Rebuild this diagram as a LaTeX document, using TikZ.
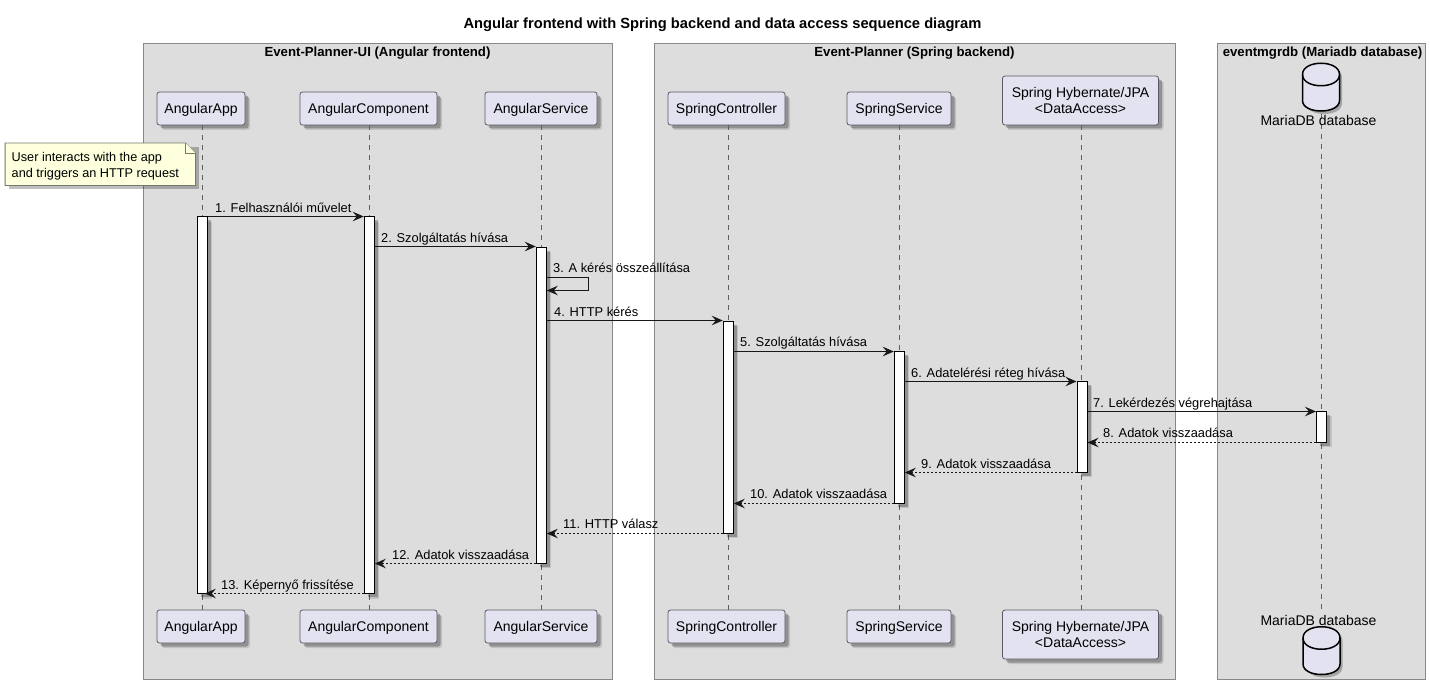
\documentclass[tikz,border=0pt]{standalone}
\usepackage{fontspec}
\setmainfont{Liberation Sans}
\usetikzlibrary{arrows.meta,shadows,calc}
\definecolor{grpfill}{HTML}{DDDDDD}
\definecolor{grpline}{HTML}{888888}
\definecolor{partfill}{HTML}{E2E2F0}
\definecolor{partline}{HTML}{5A5A66}
\definecolor{notefill}{HTML}{FEFFDD}
\definecolor{noteline}{HTML}{77776A}
\definecolor{ink}{HTML}{181818}
\tikzset{
  softbox/.style={drop shadow={shadow xshift=5pt,shadow yshift=-5pt,fill=black,opacity=.12},
                  drop shadow={shadow xshift=3.5pt,shadow yshift=-3.5pt,fill=black,opacity=.25}},
  grp/.style={draw=grpline,fill=grpfill,line width=1pt,inner sep=0pt},
  grptitle/.style={font=\fontsize{13.2}{15}\selectfont\bfseries,text=black,inner sep=0pt},
  part/.style={draw=partline,fill=partfill,line width=.8pt,rounded corners=2.5pt,inner sep=0pt,align=center,
               font=\fontsize{14}{16.5}\selectfont,softbox,execute at begin node={\rule{0pt}{13pt}}},
  life/.style={draw=grpline!70!black,line width=.8pt,dash pattern=on 5pt off 5pt},
  act/.style={draw=black,fill=white,line width=1pt,inner sep=0pt,minimum width=10pt,softbox},
  msg/.style={draw=ink,line width=1.3pt,-{Stealth[length=11pt,width=9.5pt,inset=4pt]}},
  ret/.style={msg,dash pattern=on 2pt off 2pt},
  lbl/.style={anchor=base west,inner sep=0pt,font=\fontsize{12.85}{15}\selectfont,text=black},
  dbname/.style={inner sep=0pt,font=\fontsize{14}{16}\selectfont,text=black},
  dbbody/.style={draw=black,fill=partfill,line width=1.5pt},
}
% database cylinder, centred on a named node (46 high, 37 wide)
\newcommand{\dbicon}[1]{%
  \begin{scope}[shift={(#1.center)}]
  \fill[black,opacity=.25] (-15,-10) .. controls (-15,-26) and (21,-26) .. (21,-10) -- (21,16)
    .. controls (21,30) and (-15,30) .. (-15,16) -- cycle;
  \path[dbbody] (-18.5,-13) .. controls (-18.5,-28) and (18.5,-28) .. (18.5,-13) -- (18.5,13)
    .. controls (18.5,27) and (-18.5,27) .. (-18.5,13) -- cycle;
  \draw[dbbody,fill=none] (-18.5,-13) .. controls (-18.5,2) and (18.5,2) .. (18.5,-13);
  \end{scope}
}
\begin{document}
\begin{tikzpicture}[x=1pt,y=-1pt]
\useasboundingbox (0,0) rectangle (1430,690);
\fill[white] (0,0) rectangle (1430,690);

\node[font=\fontsize{14.7}{16}\selectfont\bfseries,inner sep=0pt] (title) at (722.5,25) {Angular frontend with Spring backend and data access sequence diagram};

% groups
\node[grp,minimum width=469pt,minimum height=635pt] (g1) at (377.75,361.5) {};
\node[grp,minimum width=521pt,minimum height=635pt] (g2) at (914.75,361.5) {};
\node[grp,minimum width=208pt,minimum height=635pt] (g3) at (1321.5,361.5) {};
\node[grptitle] (g1t) at (377.5,53) {Event-Planner-UI (Angular frontend)};
\node[grptitle] (g2t) at (914.5,53) {Event-Planner (Spring backend)};
\node[grptitle] (g3t) at (1322.5,53) {eventmgrdb (Mariadb database)};

% lifeline x positions
\coordinate (xA) at (202.5,0);
\coordinate (xB) at (369.5,0);
\coordinate (xC) at (541.5,0);
\coordinate (xD) at (728.5,0);
\coordinate (xE) at (899.5,0);
\coordinate (xF) at (1081.5,0);
\coordinate (xG) at (1321.5,0);

% participants
\node[part,minimum width=88pt,minimum height=33pt] (hA) at (201,108.5) {AngularApp};
\node[part,minimum width=137pt,minimum height=33pt] (hB) at (368.5,108.5) {AngularComponent};
\node[part,minimum width=112pt,minimum height=33pt] (hC) at (541,108.5) {AngularService};
\node[part,minimum width=117pt,minimum height=33pt] (hD) at (726.5,108.5) {SpringController};
\node[part,minimum width=104pt,minimum height=33pt] (hE) at (899,108.5) {SpringService};
\node[part,minimum width=156pt,minimum height=49pt] (hF) at (1080.5,100.5) {Spring Hybernate/JPA\\<DataAccess>};
\node[part,minimum width=88pt,minimum height=33pt] (fA) at (201,626.5) {AngularApp};
\node[part,minimum width=137pt,minimum height=33pt] (fB) at (368.5,626.5) {AngularComponent};
\node[part,minimum width=112pt,minimum height=33pt] (fC) at (541,626.5) {AngularService};
\node[part,minimum width=117pt,minimum height=33pt] (fD) at (726.5,626.5) {SpringController};
\node[part,minimum width=104pt,minimum height=33pt] (fE) at (899,626.5) {SpringService};
\node[part,minimum width=156pt,minimum height=49pt] (fF) at (1080.5,634.5) {Spring Hybernate/JPA\\<DataAccess>};

% database top and bottom
\coordinate (hGlow) at (1321.5,114);
\coordinate (fGtop) at (1321.5,613);
\node[inner sep=0pt,minimum width=37pt,minimum height=46pt] (hGi) at (1321,87.5) {};
\node[inner sep=0pt,minimum width=37pt,minimum height=46pt] (fGi) at (1321.5,651) {};
\dbicon{hGi}
\dbicon{fGi}

% lifelines
\draw[life] (xA |- hA.south) -- (xA |- fA.north);
\draw[life] (xB |- hB.south) -- (xB |- fB.north);
\draw[life] (xC |- hC.south) -- (xC |- fC.north);
\draw[life] (xD |- hD.south) -- (xD |- fD.north);
\draw[life] (xE |- hE.south) -- (xE |- fE.north);
\draw[life] (xF |- hF.south) -- (xF |- fF.north);
\draw[life] (hGlow) -- (fGtop);

\node[dbname] (hG) at (1318.5,120) {MariaDB database};
\node[dbname] (fG) at (1318.5,620) {MariaDB database};

% activations
\node[act,minimum height=377pt] (aA) at (202.3,405) {};
\node[act,minimum height=377pt] (aB) at (369.3,405) {};
\node[act,minimum height=316pt] (aC) at (541.3,405) {};
\node[act,minimum height=212pt] (aD) at (728.3,427) {};
\node[act,minimum height=152pt] (aE) at (899.3,427) {};
\node[act,minimum height=91pt] (aF) at (1082,426.5) {};
\node[act,minimum height=31pt] (aG) at (1321.5,426.5) {};

% note
\node[inner sep=0pt,minimum width=190pt,minimum height=42pt] (noteframe) at (100.3,164.3) {};
\path[fill=black,opacity=.25] ([xshift=3.5pt,yshift=-3.5pt]noteframe.north west) -- ([xshift=3.5pt,yshift=-3.5pt]noteframe.north east) -- ([xshift=3.5pt,yshift=-3.5pt]noteframe.south east) -- ([xshift=3.5pt,yshift=-3.5pt]noteframe.south west) -- cycle;
\draw[draw=noteline,fill=notefill,line width=.8pt]
  (noteframe.north west) -- ([xshift=-10pt]noteframe.north east) -- ([yshift=-10pt]noteframe.north east)
  -- (noteframe.south east) -- (noteframe.south west) -- cycle;
\draw[draw=noteline,fill=notefill,line width=.8pt]
  ([xshift=-10pt]noteframe.north east) -- ([xshift=-10pt,yshift=-10pt]noteframe.north east) -- ([yshift=-10pt]noteframe.north east);
\node[lbl,anchor=base west,align=left,font=\fontsize{12.7}{16}\selectfont] (note) at (11.5,177.5) {User interacts with the app\\and triggers an HTTP request};

% message rows
\foreach \n/\y in {1/216.5,2/246.5,3/277.5,3b/290.5,4/320.5,5/351.5,6/381.5,7/411.5,8/442.5,9/472.5,10/503.5,11/533.5,12/563.5,13/593.5}
  \coordinate (r\n) at (0,\y);
\coordinate (loopx) at (588.5,0);

\draw[msg] (aA.east |- r1) -- (aB.west |- r1);
\draw[msg] (aB.east |- r2) -- (aC.west |- r2);
\draw[msg] (aC.east |- r3) -- (loopx |- r3) -- (loopx |- r3b) -- (aC.east |- r3b);
\draw[msg] (aC.east |- r4) -- (aD.west |- r4);
\draw[msg] (aD.east |- r5) -- (aE.west |- r5);
\draw[msg] (aE.east |- r6) -- (aF.west |- r6);
\draw[msg] (aF.east |- r7) -- (aG.west |- r7);
\draw[ret] (aG.west |- r8) -- (aF.east |- r8);
\draw[ret] (aF.west |- r9) -- (aE.east |- r9);
\draw[ret] (aE.west |- r10) -- (aD.east |- r10);
\draw[ret] (aD.west |- r11) -- (aC.east |- r11);
\draw[ret] (aC.west |- r12) -- (aB.east |- r12);
\draw[ret] (aB.west |- r13) -- ([xshift=-3pt]aA.east |- r13);

% message labels
\node[lbl] (m1) at (215,212) {1. Felhasználói művelet};
\node[lbl] (m2) at (381,242) {2. Szolgáltatás hívása};
\node[lbl] (m3) at (553,272.5) {3. A kérés összeállítása};
\node[lbl] (m4) at (554,316) {4. HTTP kérés};
\node[lbl] (m5) at (740,346) {5. Szolgáltatás hívása};
\node[lbl] (m6) at (911,377) {6. Adatelérési réteg hívása};
\node[lbl] (m7) at (1093,407) {7. Lekérdezés végrehajtása};
\node[lbl] (m8) at (1103,437) {8. Adatok visszaadása};
\node[lbl] (m9) at (921,468) {9. Adatok visszaadása};
\node[lbl] (m10) at (750,498) {10. Adatok visszaadása};
\node[lbl] (m11) at (563,528) {11. HTTP válasz};
\node[lbl] (m12) at (392,559) {12. Adatok visszaadása};
\node[lbl] (m13) at (221,589) {13. Képernyő frissítése};
\end{tikzpicture}
\end{document}
